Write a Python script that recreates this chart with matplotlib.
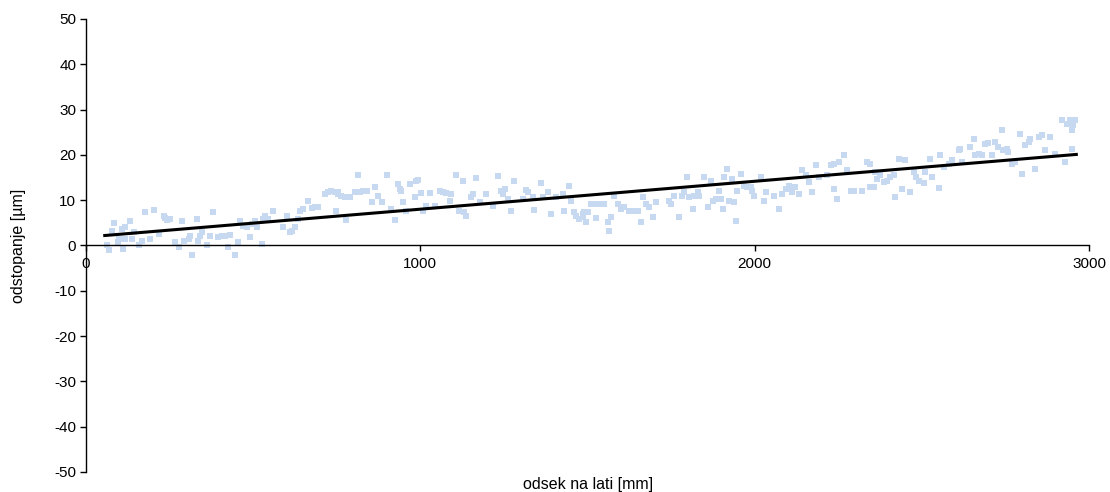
import matplotlib
matplotlib.use("Agg")
import matplotlib.pyplot as plt

plt.rcParams['font.family'] = ['Liberation Sans', 'DejaVu Sans']

# measured points: position along the lath [mm] and deviation [µm]
x_mm = [63, 68, 83, 78, 98, 95, 107, 110, 117, 117, 132, 137, 142, 157, 167, 177, 192, 202, 217, 232,
        237, 242, 252, 267, 277, 287, 292, 307, 311, 316, 331, 336, 341, 346, 361, 371, 381, 396, 406, 416,
        426, 431, 446, 456, 461, 471, 481, 490, 496, 505, 510, 525, 530, 535, 545, 560, 590, 600, 610, 615,
        625, 635, 640, 650, 665, 675, 685, 695, 714, 724, 734, 744, 754, 749,
        754, 764, 774, 779, 789, 804, 814, 819, 829, 839, 854, 864, 874, 884, 899, 913, 923, 933, 938, 943,
        948, 958, 968, 983, 988, 993, 1003, 1008, 1018, 1028, 1043, 1058, 1068, 1078, 1093, 1088, 1107, 1117, 1127, 1132,
        1137, 1152, 1157, 1167, 1177, 1197, 1217, 1232, 1242, 1247, 1252, 1262, 1272, 1281, 1306, 1316, 1321, 1336, 1341, 1361,
        1366, 1381, 1391, 1406, 1426, 1431, 1446, 1451, 1461, 1466, 1476, 1486, 1490,
        1486, 1500, 1496, 1510, 1525, 1525, 1540, 1550, 1560, 1565, 1570, 1580, 1590, 1600, 1610, 1625, 1635, 1650, 1660, 1665,
        1675, 1685, 1695, 1704, 1744, 1749, 1759, 1774, 1784, 1789, 1799, 1804, 1814, 1819, 1829, 1834, 1849, 1859, 1869, 1874,
        1884, 1894, 1899, 1904, 1909, 1918, 1923, 1933, 1938, 1943, 1948, 1958, 1968, 1978, 1988, 1993, 1998, 2018, 2028, 2033,
        2058, 2072, 2082, 2093, 2102, 2112, 2122, 2132, 2142, 2152, 2162, 2172, 2182, 2192, 2217,
        2227, 2237, 2252, 2267, 2277, 2237, 2247, 2287, 2297, 2321, 2336, 2346, 2346, 2356, 2361, 2366, 2376, 2386, 2396, 2406,
        2416, 2421, 2431, 2441, 2451, 2466, 2476, 2481, 2490, 2505, 2510, 2525, 2530, 2550, 2555, 2565, 2580, 2590, 2610, 2615,
        2620, 2645, 2655, 2660, 2670, 2680, 2690, 2699, 2709, 2719, 2729, 2739, 2744, 2754, 2759, 2769, 2779, 2794, 2799, 2809,
        2819, 2824, 2839, 2849, 2859, 2869, 2884, 2899, 2918, 2928, 2933, 2943, 2948, 2953, 2958, 2948]
dev_um = [0.0, -1.0, 4.9, 3.3, 1.5, 0.7, 3.7, -0.7, 4.0, 1.5, 5.4, 1.5, 2.9, 0.0, 1.1, 7.4, 1.5, 7.9, 2.6, 6.6,
          6.1, 5.7, 5.9, 0.7, -0.4, 5.5, 1.1, 1.5, 2.0, -2.0, 5.9, 1.1, 2.0, 2.9, 0.0, 2.2, 7.4, 1.8, 2.2, 2.2,
          -0.4, 2.4, -2.2, 0.7, 5.5, 4.4, 4.0, 1.8, 4.8, 5.5, 4.0, 0.4, 5.9, 6.6, 5.9, 7.7, 4.0, 6.6, 2.9, 3.3,
          4.0, 5.9, 7.7, 8.1, 9.8, 8.3, 8.5, 8.5, 11.3, 11.8, 12.1, 11.8, 11.4, 7.7,
          11.8, 11.0, 10.7, 5.7, 10.7, 11.8, 15.6, 11.8, 12.0, 12.1, 9.6, 13.0, 11.0, 9.6, 15.6, 8.1, 5.7, 13.6, 12.5, 12.1,
          9.6, 7.7, 13.6, 10.7, 14.3, 14.5, 11.6, 7.7, 8.8, 11.6, 8.8, 12.0, 11.8, 11.6, 11.4, 9.9, 15.6, 7.7, 14.3, 7.4,
          6.4, 10.7, 11.4, 14.9, 9.6, 11.4, 8.8, 15.3, 12.1, 11.3, 12.5, 10.3, 7.7, 14.3, 10.3, 12.3, 11.8, 10.7, 7.9, 13.8,
          10.7, 11.8, 7.0, 10.7, 11.4, 7.7, 13.2, 9.9, 7.4, 6.6, 5.9, 7.0, 7.4,
          6.2, 7.4, 5.1, 9.2, 6.1, 9.2, 9.2, 9.2, 5.1, 3.3, 6.2, 11.0, 9.2, 8.1, 8.5, 7.7, 7.7, 7.7, 5.1, 10.7,
          9.2, 8.5, 6.2, 9.6, 9.9, 9.2, 11.0, 6.2, 11.0, 11.8, 15.1, 10.7, 8.1, 11.0, 11.8, 11.0, 15.1, 8.5, 14.3, 9.9,
          10.3, 12.1, 10.3, 8.1, 15.1, 16.9, 9.9, 14.7, 9.6, 5.5, 12.1, 15.8, 13.2, 12.9, 12.9, 12.1, 11.0, 15.1, 9.9, 11.8,
          11.0, 8.1, 11.4, 12.5, 13.2, 11.8, 12.9, 11.4, 16.7, 15.5, 14.0, 11.8, 17.8, 15.1, 15.5,
          17.7, 18.0, 18.4, 19.9, 16.6, 12.5, 10.3, 12.0, 12.0, 12.0, 18.4, 18.0, 12.9, 12.9, 16.2, 14.7, 15.5, 14.0, 14.3, 15.1,
          15.5, 10.7, 19.1, 12.5, 18.8, 11.8, 16.2, 15.1, 14.3, 13.8, 16.2, 19.1, 15.1, 12.7, 19.9, 17.3, 18.0, 18.8, 21.0, 21.3,
          18.4, 21.7, 23.6, 19.9, 20.2, 19.9, 22.4, 22.6, 19.9, 22.8, 21.7, 25.5, 21.0, 21.3, 20.6, 18.0, 18.4, 24.7, 15.8, 22.1,
          22.8, 23.6, 16.9, 23.9, 24.3, 21.0, 23.9, 20.2, 27.6, 18.4, 26.9, 27.6, 25.4, 26.5, 27.6, 21.3]

# linear trend line end points
trend_x = [56, 2962]
trend_y = [2.2, 20.1]

x_ticks = [0, 1000, 2000, 3000]
y_ticks = [-50, -40, -30, -20, -10, 0, 10, 20, 30, 40, 50]

fig = plt.figure(figsize=(11.10, 4.92), dpi=100)
ax = fig.add_axes([0.0775, 0.0407, 0.9036, 0.9207])

ax.scatter(x_mm, dev_um, marker='s', s=20, color='#c6d9f1', linewidths=0, zorder=2)
ax.plot(trend_x, trend_y, color='black', linewidth=2.2, zorder=3)

ax.set_xlim(0, 3000)
ax.set_ylim(-50, 50)
ax.set_xticks(x_ticks)
ax.set_yticks(y_ticks)
ax.set_yticklabels([str(v) for v in y_ticks])

for s in ['top', 'right']:
    ax.spines[s].set_visible(False)
ax.spines['bottom'].set_position(('data', 0))
ax.spines['bottom'].set_linewidth(1.0)
ax.spines['left'].set_linewidth(1.0)
ax.tick_params(axis='both', direction='out', length=4, width=1.0, labelsize=11, colors='black')
ax.tick_params(axis='x', pad=4)
ax.tick_params(axis='y', pad=3)

fig.text(0.0165, 0.5, 'odstopanje [µm]', rotation=90, ha='center', va='center', fontsize=11.5)
fig.text(0.53, 0.016, 'odsek na lati [mm]', ha='center', va='center', fontsize=11.5)

fig.savefig('out.png', dpi=100)
